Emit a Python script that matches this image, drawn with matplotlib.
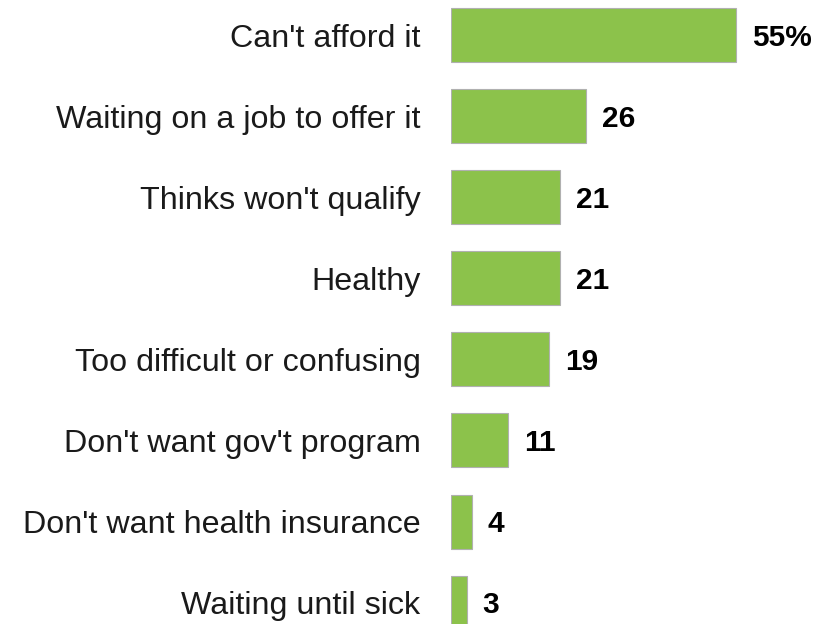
import matplotlib.pyplot as plt

plt.rcParams['font.family'] = ['Liberation Sans', 'DejaVu Sans']

categories = [
    "Can't afford it",
    "Waiting on a job to offer it",
    "Thinks won't qualify",
    "Healthy",
    "Too difficult or confusing",
    "Don't want gov't program",
    "Don't want health insurance",
    "Waiting until sick",
]
values = [55, 26, 21, 21, 19, 11, 4, 3]
value_labels = ["55%", "26", "21", "21", "19", "11", "4", "3"]

fig = plt.figure(figsize=(8.36, 6.24), dpi=100)
ax = fig.add_axes([451 / 836, 0, 1 - 451 / 836, 1])

ypos = list(range(len(categories)))
bars = ax.barh(ypos, values, height=0.666, color="#8CC24B",
               edgecolor="#B0B0B0", linewidth=0.8)

for b, lab in zip(bars, value_labels):
    ax.annotate(lab, (b.get_width(), b.get_y() + b.get_height() / 2),
                xytext=(11.5, -2), textcoords="offset points",
                ha="left", va="center", fontsize=21.5, fontweight="bold",
                color="black")

ax.set_xlim(0, 74.3)
ax.set_ylim(7.263, -0.4316)
ax.set_yticks(ypos)
ax.set_yticklabels(categories, fontsize=23.2, color="#1a1a1a")
ax.tick_params(axis="y", length=0, pad=22)
ax.set_xticks([])
for s in ax.spines.values():
    s.set_visible(False)

fig.savefig("out.png", dpi=100)
